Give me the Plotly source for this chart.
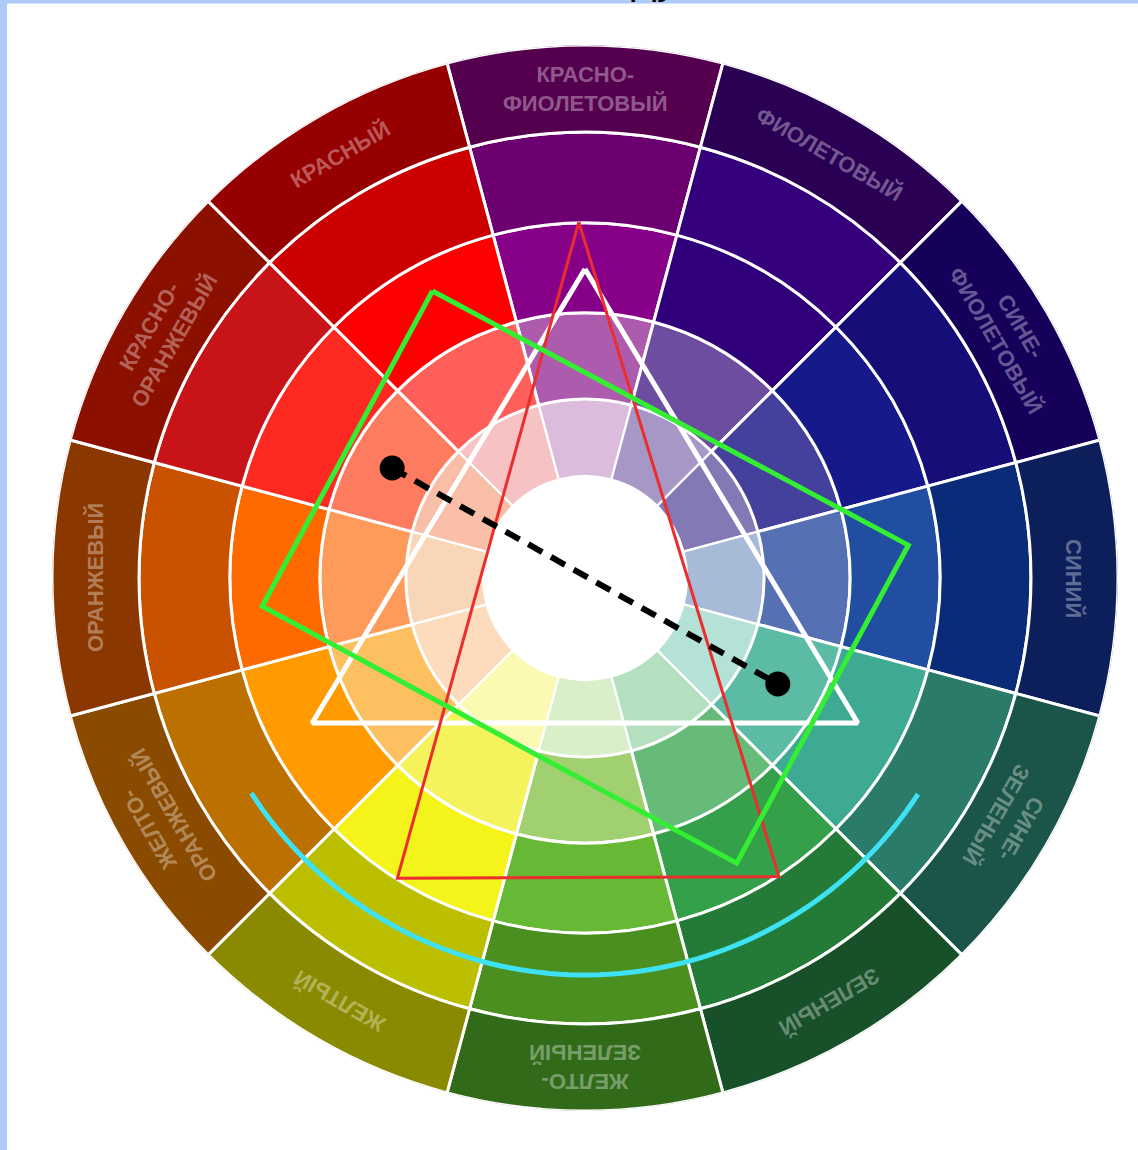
import numpy as np
import plotly.graph_objects as go

# ---------------- data ----------------
sector_names = ["КРАСНО-<br>ФИОЛЕТОВЫЙ", "ФИОЛЕТОВЫЙ", "СИНЕ-<br>ФИОЛЕТОВЫЙ", "СИНИЙ",
                "СИНЕ-<br>ЗЕЛЕНЫЙ", "ЗЕЛЕНЫЙ", "ЖЕЛТО-<br>ЗЕЛЕНЫЙ", "ЖЕЛТЫЙ",
                "ЖЕЛТО-<br>ОРАНЖЕВЫЙ", "ОРАНЖЕВЫЙ", "КРАСНО-<br>ОРАНЖЕВЫЙ", "КРАСНЫЙ"]
sector_theta = [90, 60, 30, 0, -30, -60, -90, -120, -150, 180, 150, 120]

ring_edges = [102, 179, 265, 355, 446, 533]

ring1_colors = ["#dbbcdc", "#a797c7", "#8279b5", "#a7bad8", "#b4e2d6", "#b5e0c0",
                "#d9efca", "#fafab2", "#fcdcbc", "#fad6b8", "#f8bea8", "#f7c2c3"]
ring2_colors = ["#ad5cad", "#6c4d9f", "#43419b", "#5670b4", "#5cbba4", "#67bb79",
                "#a1d070", "#f5f35c", "#fdc060", "#ff9b5a", "#fd7b5e", "#ff5f5a"]
ring3_colors = ["#860088", "#2f0079", "#15198a", "#214ea0", "#3faa94", "#35a04a",
                "#67b834", "#f4f31a", "#ff9a00", "#ff6a00", "#fe2a22", "#ff0000"]
ring4_colors = ["#6d0070", "#34007c", "#150d78", "#0a2c78", "#2b7b6b", "#247a37",
                "#4b8f20", "#bcbe00", "#bb7000", "#c85200", "#c81418", "#cc0000"]
ring5_colors = ["#55004f", "#2a0055", "#15005a", "#0d1f5b", "#1b5448", "#18502a",
                "#316b1a", "#8a8a00", "#8a4a00", "#8a3800", "#8c1000", "#960000"]
ring_colors = [ring1_colors, ring2_colors, ring3_colors, ring4_colors, ring5_colors]

# overlay figures in polar terms (radius, angle in degrees)
white_tri_r = [309, 309, 309]
white_tri_theta = [90, 208, 332]
red_tri_r = [356, 354, 356]
red_tri_theta = [91, 238, 303]
green_rect_r = [325, 325, 323, 324]
green_rect_theta = [118, 5.8, 298, 185]
dash_r = [222, 220]
dash_theta = [150.3, 331.2]
arc_r = 397
arc_theta_range = [212.8, 327]
label_r = 489

# ---------------- geometry of the page ----------------
W, H = 1138, 1150
cx, cy, R = 585, 578, 533

fig = go.Figure()

for i in range(5):
    inner, outer = ring_edges[i], ring_edges[i + 1]
    fig.add_trace(go.Barpolar(
        r=[outer - inner] * 12, base=[inner] * 12, theta=sector_theta,
        width=[30] * 12,
        marker=dict(color=ring_colors[i], line=dict(color="white", width=3 if i else 2.2)),
        hoverinfo="skip", showlegend=False))


def closed(a):
    return list(a) + [a[0]]


fig.add_trace(go.Scatterpolar(r=closed(white_tri_r), theta=closed(white_tri_theta), mode="lines",
                              line=dict(color="white", width=5), hoverinfo="skip", showlegend=False))
fig.add_trace(go.Scatterpolar(r=closed(red_tri_r), theta=closed(red_tri_theta), mode="lines",
                              line=dict(color="#ec2d2d", width=3), hoverinfo="skip", showlegend=False))
fig.add_trace(go.Scatterpolar(r=closed(green_rect_r), theta=closed(green_rect_theta), mode="lines",
                              line=dict(color="#33ee33", width=5), hoverinfo="skip", showlegend=False))
fig.add_trace(go.Scatterpolar(r=dash_r, theta=dash_theta, mode="lines",
                              line=dict(color="black", width=6, dash="16px,10px"),
                              hoverinfo="skip", showlegend=False))
fig.add_trace(go.Scatterpolar(r=dash_r, theta=dash_theta, mode="markers",
                              marker=dict(color="black", size=25), hoverinfo="skip", showlegend=False))
arc_t = np.linspace(arc_theta_range[0], arc_theta_range[1], 80)
fig.add_trace(go.Scatterpolar(r=[arc_r] * len(arc_t), theta=arc_t, mode="lines",
                              line=dict(color="#3ee2f2", width=5), hoverinfo="skip", showlegend=False))

annotations = []
for name, th in zip(sector_names, sector_theta):
    a = np.deg2rad(th)
    px = cx + label_r * np.cos(a)
    py = cy - label_r * np.sin(a)
    annotations.append(dict(
        x=px / W, y=1 - py / H, xref="paper", yref="paper", text=name, showarrow=False,
        textangle=90 - th, xanchor="center", yanchor="middle", align="center",
        font=dict(family="Liberation Sans, Arial, sans-serif", size=22, color="rgba(255,255,255,0.36)",
                  weight="bold")))

# cut-off title fragment at the very top
annotations.append(dict(x=655 / W, y=1 - 4 / H, xref="paper", yref="paper", text="ду", showarrow=False,
                        xanchor="center", yanchor="bottom",
                        font=dict(family="Liberation Sans, Arial", size=44, color="black")))

fig.update_layout(
    width=W, height=H, margin=dict(l=0, r=0, t=0, b=0),
    paper_bgcolor="white", plot_bgcolor="white",
    polar=dict(
        domain=dict(x=[(cx - R) / W, (cx + R) / W], y=[1 - (cy + R) / H, 1 - (cy - R) / H]),
        bgcolor="rgba(0,0,0,0)", barmode="overlay", bargap=0, hole=0,
        radialaxis=dict(visible=False, range=[0, R], showgrid=False),
        angularaxis=dict(visible=False, showgrid=False, direction="counterclockwise", rotation=0),
    ),
    shapes=[
        dict(type="rect", xref="paper", yref="paper", x0=0, x1=7 / W, y0=0, y1=1,
             fillcolor="#aecbf8", line=dict(width=0), layer="above"),
        dict(type="rect", xref="paper", yref="paper", x0=0, x1=1, y0=1 - 3.5 / H, y1=1,
             fillcolor="#aecbf8", line=dict(width=0), layer="below"),
    ],
    annotations=annotations,
)

fig.write_html("out.html", config={"displayModeBar": False},
               post_script="document.body.style.margin='0';document.body.style.padding='0';"
                           "document.documentElement.style.overflow='hidden';")
